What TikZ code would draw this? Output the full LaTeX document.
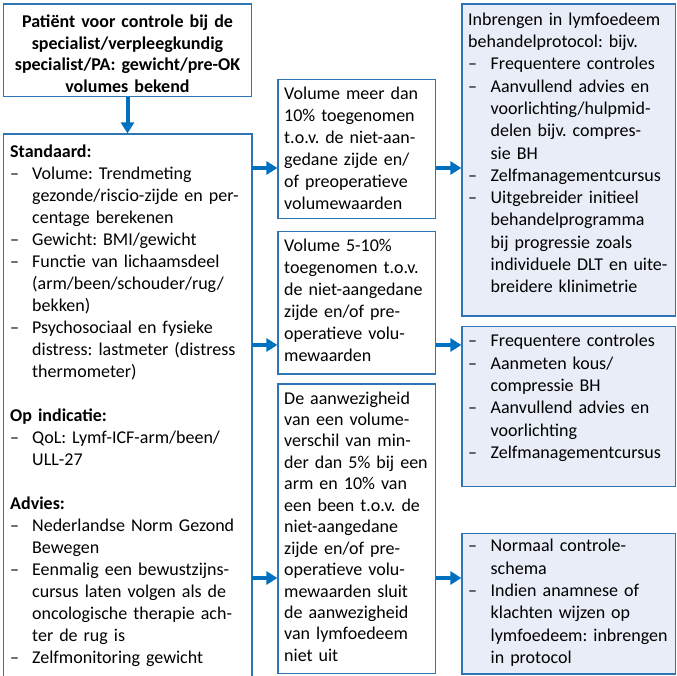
\documentclass[tikz,border=0pt]{standalone}
\usepackage{fontspec}
\setmainfont{Carlito}
\usetikzlibrary{arrows.meta}
\definecolor{bdr}{RGB}{46,117,182}
\definecolor{arrc}{RGB}{0,112,192}
\definecolor{lfill}{RGB}{233,237,247}
\newlength\hind
\setlength\hind{22pt}
\newcommand\nl{\hfil\break}
\newcommand\dl[1]{\par\hangindent=\hind\hangafter=1\noindent\makebox[\hind][l]{–}#1}
\newcommand\fs[1]{\fontsize{18}{#1}\selectfont\frenchspacing}
\newcommand\st{\rule{0pt}{15pt}}
\begin{document}
\begin{tikzpicture}[x=1pt,y=-1pt,
 box/.style={draw=bdr,line width=1.3pt,inner sep=0pt,outer sep=0pt,anchor=north west},
 rbox/.style={box,fill=lfill},
 txt/.style={inner sep=0pt,anchor=north west,align=left,text width=#1},
 arr/.style={draw=arrc,line width=4pt,-{Triangle[length=11pt,width=13pt]},shorten >=0.6pt}]
\useasboundingbox (0,0) rectangle (677,675);

% boxes
\node[box,minimum width=248pt,minimum height=92.7pt] (A) at (3.5,4) {};
\node[box,minimum width=248.5pt,minimum height=556pt] (L) at (3.5,134) {};
\node[box,minimum width=157.5pt,minimum height=138.8pt] (M1) at (278,79.5) {};
\node[box,minimum width=157.5pt,minimum height=142.3pt] (M2) at (278,231.7) {};
\node[box,minimum width=157.5pt,minimum height=289.5pt] (M3) at (278,384) {};
\node[rbox,minimum width=213.5pt,minimum height=312pt] (R1) at (462,4) {};
\node[rbox,minimum width=213.5pt,minimum height=160pt] (R2) at (462,326.7) {};
\node[rbox,minimum width=213.5pt,minimum height=140.7pt] (R3) at (462,533.3) {};

% texts
\node[txt=245pt,align=center,anchor=north,font=\bfseries\fs{21.5}] (At) at (127.5,12.5)
 {\st Patiënt voor controle bij de\\ specialist/verpleegkundig\\ specialist/PA: gewicht/pre-OK\\ volumes bekend};

\node[txt=250pt,font=\fs{22}] (Lt) at (10,142) {\st\textbf{Standaard:}
\dl{Volume: Trendmeting\nl gezonde/riscio-zijde en per-\nl centage berekenen}
\dl{Gewicht: BMI/gewicht}
\dl{Functie van lichaamsdeel\nl (arm/been/schouder/rug/\nl bekken)}
\dl{Psychosociaal en fysieke\nl distress: lastmeter (distress\nl thermometer)}
\par\vspace{22pt}\noindent\textbf{Op indicatie:}
\dl{QoL: Lymf-ICF-arm/been/\nl ULL-27}
\par\vspace{22pt}\noindent\textbf{Advies:}
\dl{Nederlandse Norm Gezond\nl Bewegen}
\dl{Eenmalig een bewustzijns-\nl cursus laten volgen als de\nl oncologische therapie ach-\nl ter de rug is}
\dl{Zelfmonitoring gewicht}\par};

\node[txt=160pt,font=\fs{22}] (M1t) at (284,84.3)
 {\st Volume meer dan\\ 10\% toegenomen\\ t.o.v. de niet-aan-\\ gedane zijde en/\\ of preoperatieve\\ volumewaarden};
\node[txt=160pt,font=\fs{22}] (M2t) at (284,236.7)
 {\st Volume 5-10\%\\ toegenomen t.o.v.\\ de niet-aangedane\\ zijde en/of pre-\\ operatieve volu-\\ mewaarden};
\node[txt=160pt,font=\fs{21.45}] (M3t) at (284,388.8)
 {\st De aanwezigheid\\ van een volume-\\ verschil van min-\\ der dan 5\% bij een\\ arm en 10\% van\\ een been t.o.v. de\\ niet-aangedane\\ zijde en/of pre-\\ operatieve volu-\\ mewaarden sluit\\ de aanwezigheid\\ van lymfoedeem\\ niet uit};

\node[txt=215pt,font=\fs{22.3}] (R1t) at (468,10) {\setlength\hind{22.5pt}\st Inbrengen in lymfoedeem\nl behandelprotocol: bijv.
\dl{Frequentere controles}
\dl{Aanvullend advies en\nl voorlichting/hulpmid-\nl delen bijv. compres-\nl sie BH}
\dl{Zelfmanagementcursus}
\dl{Uitgebreider initieel\nl behandelprogramma\nl bij progressie zoals\nl individuele DLT en uite-\nl breidere klinimetrie}\par};

\node[txt=215pt,font=\fs{22.3}] (R2t) at (468,331.7) {\setlength\hind{22.5pt}\hangindent=\hind\hangafter=1\noindent\st\makebox[\hind][l]{–}Frequentere controles
\dl{Aanmeten kous/\nl compressie BH}
\dl{Aanvullend advies en\nl voorlichting}
\dl{Zelfmanagementcursus}\par};

\node[txt=215pt,font=\fs{22.3}] (R3t) at (468,536.7) {\setlength\hind{22.5pt}\hangindent=\hind\hangafter=1\noindent\st\makebox[\hind][l]{–}Normaal controle-\nl schema
\dl{Indien anamnese of\nl klachten wijzen op\nl lymfoedeem: inbrengen\nl in protocol}\par};

% connectors
\coordinate (y1) at (0,168);
\coordinate (y2) at (0,345);
\coordinate (y3) at (0,578);
\draw[arr] (A.south) -- (A.south|-L.north);
\draw[arr] (L.east|-y1) -- (M1.west|-y1);
\draw[arr] (M1.east|-y1) -- (R1.west|-y1);
\draw[arr] (L.east|-y2) -- (M2.west|-y2);
\draw[arr] (M2.east|-y2) -- (R2.west|-y2);
\draw[arr] (L.east|-y3) -- (M3.west|-y3);
\draw[arr] (M3.east|-y3) -- (R3.west|-y3);
\end{tikzpicture}
\end{document}
